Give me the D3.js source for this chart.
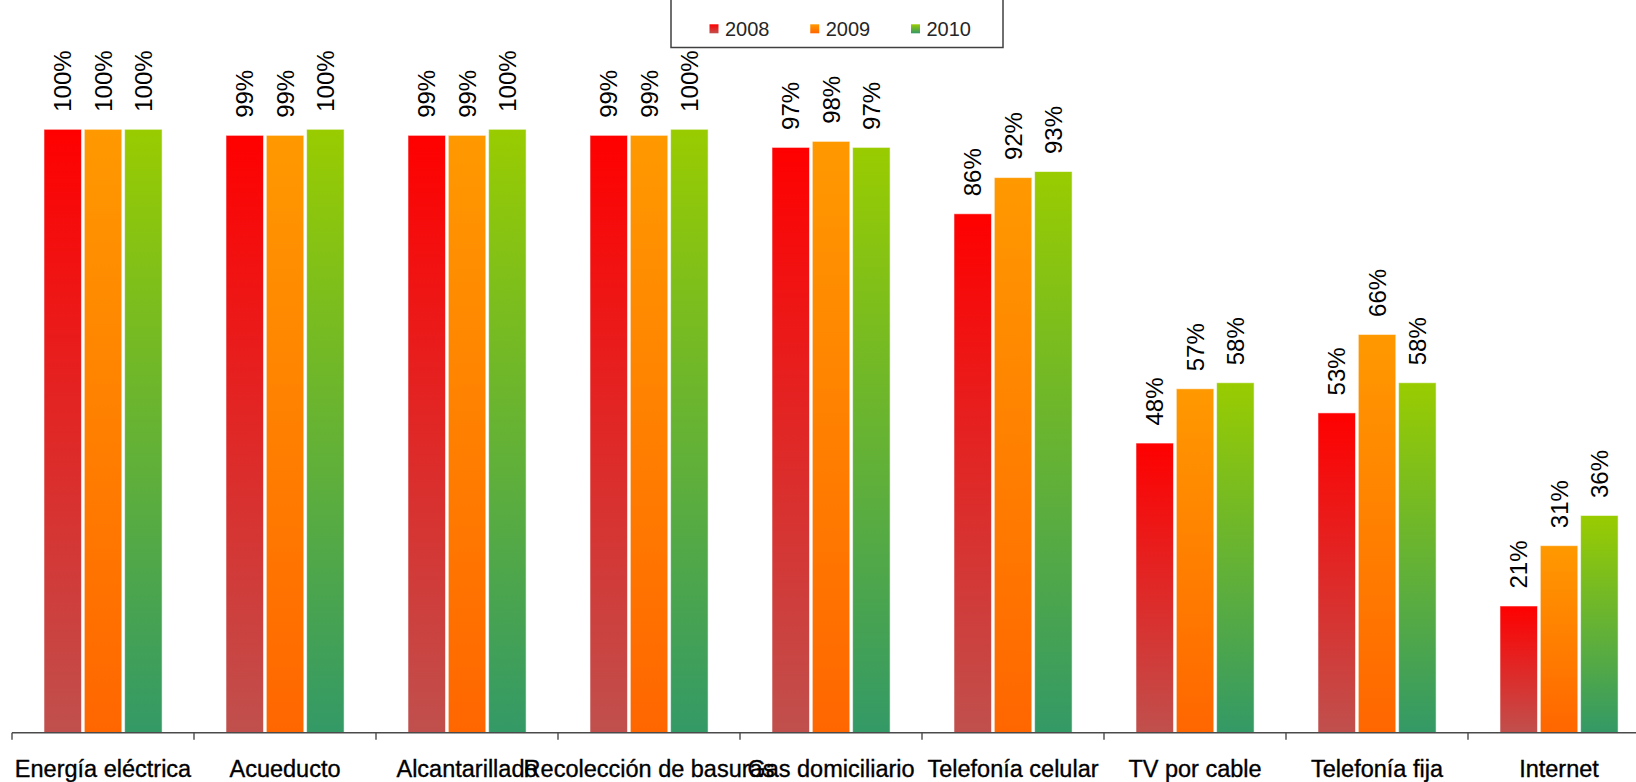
<!DOCTYPE html>
<html>
<head>
<meta charset="utf-8">
<script src="https://cdn.jsdelivr.net/npm/d3@7"></script>
<style>
  html, body { margin: 0; padding: 0; background: #ffffff; }
  svg { display: block; }
</style>
</head>
<body>
<svg id="chart" width="1636" height="782"></svg>
<script>
// Cobertura de servicios por año
const categories = ["Energía eléctrica", "Acueducto", "Alcantarillado", "Recolección de basuras",
  "Gas domiciliario", "Telefonía celular", "TV por cable", "Telefonía fija", "Internet"];
const years = ["2008", "2009", "2010"];
const values2008 = [100, 99, 99, 99, 97, 86, 48, 53, 21];
const values2009 = [100, 99, 99, 99, 98, 92, 57, 66, 31];
const values2010 = [100, 100, 100, 100, 97, 93, 58, 58, 36];
const seriesValues = [values2008, values2009, values2010];

// top / bottom colour of each series gradient
const gradTop = ["#ff0000", "#ff9900", "#99cc00"];
const gradBottom = ["#c0504d", "#ff6600", "#339966"];

const svg = d3.select("#chart");
const font = "'Liberation Sans', Arial, sans-serif";

const defs = svg.append("defs");
years.forEach((y, i) => {
  const g = defs.append("linearGradient")
    .attr("id", "grad" + y)
    .attr("x1", 0).attr("y1", 0).attr("x2", 0).attr("y2", 1);
  g.append("stop").attr("offset", "0%").attr("stop-color", gradTop[i]);
  g.append("stop").attr("offset", "100%").attr("stop-color", gradBottom[i]);
});

const baseY = 732.7;
const x0 = d3.scaleBand().domain(categories).range([12, 1650]).padding(0);
const x1 = d3.scaleBand().domain(years).range([32, 150.1]).paddingInner(0.07).paddingOuter(0);
const y = d3.scaleLinear().domain([0, 100]).range([baseY, 129.3]);

const rows = categories.map((c, ci) => ({
  cat: c,
  bars: years.map((yr, si) => ({ cat: c, year: yr, si, value: seriesValues[si][ci] }))
}));

const groups = svg.append("g").selectAll("g.group")
  .data(rows).join("g")
  .attr("class", "group")
  .attr("transform", d => `translate(${x0(d.cat)},0)`);

groups.selectAll("rect")
  .data(d => d.bars).join("rect")
  .attr("x", d => x1(d.year))
  .attr("width", x1.bandwidth())
  .attr("y", d => y(d.value))
  .attr("height", d => baseY - y(d.value))
  .attr("fill", d => `url(#grad${d.year})`)
  .attr("stroke", "rgba(255,255,255,0.55)")
  .attr("stroke-width", 1);

// value labels, rotated
groups.selectAll("text.val")
  .data(d => d.bars).join("text")
  .attr("class", "val")
  .attr("transform", d => `translate(${x1(d.year) + x1.bandwidth() / 2},${y(d.value) - 17.5}) rotate(-90)`)
  .attr("dy", "0.36em")
  .attr("font-family", font)
  .attr("font-size", 24)
  .attr("fill", "#000")
  .text(d => d.value + "%");

// category axis
const axis = svg.append("g");
axis.append("line")
  .attr("x1", 12).attr("x2", 1636)
  .attr("y1", baseY).attr("y2", baseY)
  .attr("stroke", "#4a4a4a").attr("stroke-width", 1.4);
axis.selectAll("line.tick")
  .data(categories).join("line")
  .attr("class", "tick")
  .attr("x1", d => x0(d)).attr("x2", d => x0(d))
  .attr("y1", baseY).attr("y2", baseY + 7)
  .attr("stroke", "#4a4a4a").attr("stroke-width", 1.4);
axis.selectAll("text.cat")
  .data(categories).join("text")
  .attr("class", "cat")
  .attr("x", d => x0(d) + x0.bandwidth() / 2)
  .attr("y", 777)
  .attr("text-anchor", "middle")
  .attr("font-family", font)
  .attr("font-size", 23.5)
  .attr("fill", "#000")
  .attr("stroke", "#000")
  .attr("stroke-width", 0.35)
  .text(d => d);

// legend
const legend = svg.append("g");
legend.append("rect")
  .attr("x", 671).attr("y", -10)
  .attr("width", 332).attr("height", 57.5)
  .attr("fill", "#fff")
  .attr("stroke", "#404040").attr("stroke-width", 1.5);
const lx = d3.scalePoint().domain(years).range([709.5, 911]);
const items = legend.selectAll("g.item").data(years).join("g")
  .attr("class", "item")
  .attr("transform", d => `translate(${lx(d)},0)`);
items.append("rect")
  .attr("x", 0).attr("y", 24.3)
  .attr("width", 9).attr("height", 9)
  .attr("fill", d => `url(#grad${d})`);
items.append("text")
  .attr("x", 15.5).attr("y", 36)
  .attr("font-family", font)
  .attr("font-size", 20)
  .attr("fill", "#262626")
  .text(d => d);
</script>
</body>
</html>
